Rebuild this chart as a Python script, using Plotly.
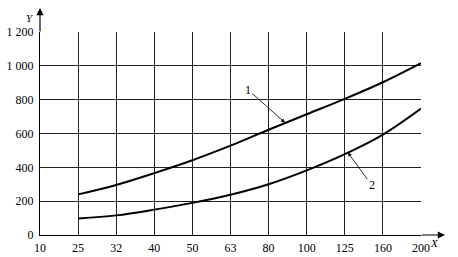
import plotly.graph_objects as go

x_labels = ["10", "25", "32", "40", "50", "63", "80", "100", "125", "160", "200"]
curve1_x = ["25", "32", "40", "50", "63", "80", "100", "125", "160", "200"]
curve1_y = [240, 296, 366, 442, 528, 622, 714, 805, 903, 1016]
curve2_x = ["25", "32", "40", "50", "63", "80", "100", "125", "160", "200"]
curve2_y = [97, 116, 150, 190, 238, 300, 382, 478, 594, 748]
y_ticks = [0, 200, 400, 600, 800, 1000, 1200]
y_ticktext = ["0", "200", "400", "600", "800", "1 000", "1 200"]

idx = {lab: i for i, lab in enumerate(x_labels)}
FONT = "Liberation Serif"

fig = go.Figure()
for xs, ys in [(curve1_x, curve1_y), (curve2_x, curve2_y)]:
    fig.add_trace(go.Scatter(
        x=[idx[v] for v in xs], y=ys, mode="lines",
        line=dict(color="black", width=2, shape="spline", smoothing=1),
        showlegend=False, hoverinfo="skip"))

fig.update_layout(
    width=458, height=257,
    margin=dict(l=40, r=37, t=32, b=22),
    paper_bgcolor="white", plot_bgcolor="white",
    font=dict(family=FONT, size=12, color="black"),
    xaxis=dict(range=[0, 10], tickvals=list(range(len(x_labels))), ticktext=x_labels,
               showgrid=True, gridcolor="#222", gridwidth=1, zeroline=False,
               showline=True, linecolor="black", linewidth=1.2, automargin=False,
               ticks="", ticklen=0, ticklabelstandoff=1, tickfont=dict(family=FONT, size=12)),
    yaxis=dict(range=[0, 1200], tickvals=y_ticks, ticktext=y_ticktext,
               showgrid=True, gridcolor="#222", gridwidth=1, zeroline=False,
               showline=True, linecolor="black", linewidth=1.2, automargin=False,
               ticks="", ticklen=0, ticklabelstandoff=3, tickfont=dict(family=FONT, size=12)),
)

# axis arrows
fig.add_annotation(xref="paper", yref="paper", x=0, y=1.118, ax=0, ay=25,
                   axref="pixel", ayref="pixel", text="", showarrow=True,
                   arrowhead=2, arrowsize=1.2, arrowwidth=1.2, arrowcolor="black")
fig.add_annotation(xref="paper", yref="paper", x=1.063, y=0, ax=-25, ay=0,
                   axref="pixel", ayref="pixel", text="", showarrow=True,
                   arrowhead=2, arrowsize=1.2, arrowwidth=1.2, arrowcolor="black")
fig.add_annotation(xref="paper", yref="paper", x=-0.039, y=1.105, text="<i>Y</i>",
                   showarrow=False, borderpad=0, font=dict(family=FONT, size=11))
fig.add_annotation(xref="paper", yref="paper", x=1.05, y=-0.04, text="<i>X</i>",
                   showarrow=False, yanchor="middle", borderpad=0, font=dict(family=FONT, size=11))

# curve labels
fig.add_annotation(x=6.43, y=664, ax=-37, ay=-33, text="1", showarrow=True,
                   arrowhead=2, arrowsize=1, arrowwidth=0.8, arrowcolor="black",
                   font=dict(family=FONT, size=12))
fig.add_annotation(x=8.08, y=488, ax=24, ay=33, text="2", showarrow=True,
                   arrowhead=2, arrowsize=1, arrowwidth=0.8, arrowcolor="black",
                   font=dict(family=FONT, size=12))

fig.write_html("out.html")
